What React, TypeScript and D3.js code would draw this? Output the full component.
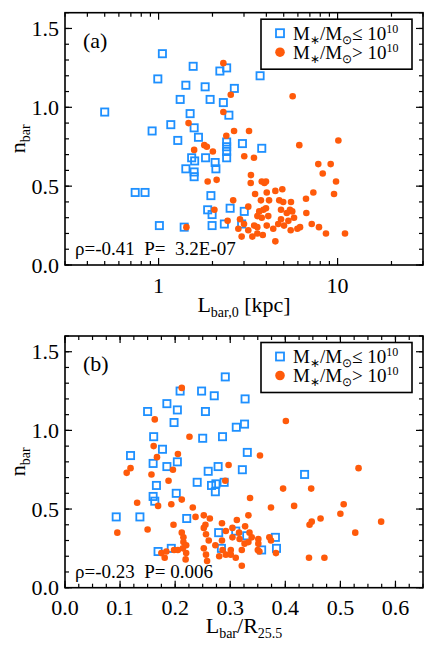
import React from "react";
import * as d3 from "d3";

// ---------- Data (panel a: n_bar vs L_bar,0 [kpc]) ----------
const aLowX = [1.05,1.56,2.20,2.40,3.69,0.99,1.42,1.82,2.65,1.32,1.94,2.30,0.50,1.50,2.47,1.17,1.58,0.92,1.28,1.67,2.40,2.40,2.40,2.40,2.94,3.77,1.53,1.59,1.83,2.07,2.09,1.42,1.58,1.58,0.74,0.84,1.96,1.88,1.99,2.51,3.01,1.01,1.39,1.99,2.33,2.91];
const aLowY = [1.34,1.26,1.23,1.25,1.20,1.18,1.14,1.13,1.12,1.05,1.05,1.03,0.97,0.96,0.95,0.89,0.87,0.85,0.79,0.81,0.78,0.75,0.72,0.68,0.77,0.74,0.68,0.66,0.68,0.65,0.61,0.61,0.59,0.56,0.46,0.46,0.44,0.35,0.32,0.36,0.34,0.25,0.24,0.25,0.26,0.26];
const aHighX = [2.30,5.61,2.53,2.30,1.47,2.64,3.20,2.39,6.11,10.1,1.80,1.86,1.58,2.01,3.01,3.41,7.80,9.15,8.26,3.28,1.88,2.11,3.27,3.77,3.90,3.98,9.80,3.46,4.02,4.49,4.91,7.32,9.55,2.61,3.73,4.14,4.72,4.97,5.49,6.66,3.17,2.05,3.85,3.98,3.65,4.83,5.42,5.58,6.69,5.20,3.56,3.77,4.10,4.83,5.31,5.71,2.43,2.85,3.00,3.42,3.56,4.02,4.37,4.66,5.02,2.79,5.47,5.96,6.17,3.34,3.56,3.82,2.91,7.17,7.87,8.61,11.0,4.49,1.43,3.17];
const aHighY = [1.28,1.07,1.08,0.97,0.90,0.85,0.85,0.82,0.76,0.79,0.76,0.75,0.73,0.72,0.69,0.68,0.64,0.64,0.58,0.57,0.53,0.54,0.52,0.53,0.52,0.53,0.53,0.45,0.46,0.47,0.48,0.46,0.45,0.41,0.41,0.41,0.41,0.40,0.40,0.42,0.37,0.35,0.35,0.36,0.34,0.35,0.35,0.34,0.33,0.33,0.31,0.30,0.31,0.29,0.28,0.30,0.28,0.29,0.26,0.25,0.24,0.25,0.23,0.26,0.25,0.23,0.22,0.23,0.24,0.18,0.20,0.19,0.18,0.26,0.24,0.20,0.20,0.15,0.24,0.22];

// ---------- Data (panel b: n_bar vs L_bar/R_25.5) ----------
const bLowX = [0.291,0.209,0.248,0.271,0.327,0.150,0.185,0.204,0.255,0.198,0.311,0.326,0.161,0.250,0.286,0.331,0.177,0.119,0.160,0.185,0.204,0.278,0.260,0.322,0.240,0.166,0.266,0.274,0.289,0.273,0.202,0.160,0.163,0.093,0.136,0.221,0.279,0.310,0.330,0.284,0.169,0.193,0.357,0.435,0.382,0.384];
const bLowY = [1.34,1.25,1.25,1.22,1.20,1.12,1.17,1.13,1.12,1.05,1.02,1.04,0.96,0.95,0.96,0.86,0.88,0.84,0.79,0.77,0.80,0.77,0.74,0.75,0.67,0.65,0.65,0.66,0.67,0.61,0.60,0.58,0.55,0.45,0.45,0.44,0.35,0.36,0.33,0.25,0.23,0.25,0.24,0.72,0.32,0.25];
const bHighX = [0.212,0.163,0.226,0.401,0.161,0.354,0.167,0.205,0.119,0.112,0.157,0.196,0.297,0.533,0.188,0.291,0.396,0.447,0.131,0.169,0.193,0.212,0.232,0.336,0.374,0.416,0.506,0.500,0.150,0.095,0.197,0.237,0.252,0.263,0.285,0.312,0.333,0.255,0.252,0.327,0.292,0.212,0.215,0.256,0.261,0.285,0.304,0.317,0.326,0.215,0.220,0.252,0.273,0.286,0.321,0.175,0.184,0.198,0.205,0.214,0.181,0.220,0.219,0.256,0.258,0.280,0.292,0.301,0.310,0.321,0.574,0.464,0.444,0.448,0.527,0.304,0.316,0.335,0.339,0.351,0.371,0.374,0.351,0.301,0.350,0.353,0.383,0.443,0.471,0.333];
const bHighY = [1.27,1.07,0.96,1.06,0.90,0.84,0.83,0.85,0.76,0.73,0.72,0.75,0.78,0.76,0.68,0.68,0.63,0.63,0.54,0.52,0.53,0.56,0.51,0.57,0.51,0.52,0.53,0.47,0.37,0.35,0.40,0.45,0.46,0.44,0.41,0.43,0.46,0.40,0.38,0.39,0.36,0.35,0.32,0.34,0.30,0.30,0.32,0.31,0.28,0.29,0.27,0.25,0.27,0.24,0.24,0.22,0.23,0.24,0.24,0.25,0.19,0.22,0.18,0.21,0.17,0.20,0.21,0.21,0.19,0.14,0.42,0.44,0.40,0.42,0.35,0.38,0.35,0.35,0.32,0.31,0.32,0.30,0.28,0.24,0.24,0.23,0.22,0.19,0.19,0.29];

// ---------- Axis ticks ----------
const yMajorTicks = [0, 0.5, 1.0, 1.5];
const yMinorTicks = d3.range(0, 17).map((i) => i / 10);
const aMajorTicks = [1, 10];
const aMinorTicks = [0.3,0.4,0.5,0.6,0.7,0.8,0.9,2,3,4,5,6,7,8,9,20,30];
const aTickLabels = ["1", "10"];
const bMajorTicks = [0, 0.1, 0.2, 0.3, 0.4, 0.5, 0.6];
const bMinorTicks = d3.range(0, 27).map((i) => i * 0.025);

const BLUE = "#1e90ff";
const ORANGE = "#ff5a0a";
const FONT = "Liberation Serif, Times New Roman, Times, serif";
const MAJ = 7;
const MIN = 4;

type Sc = (v: number) => number;

function Panel(props: {
  x: Sc; y: Sc; x0: number; x1: number; y0: number; y1: number;
  xMajor: number[]; xMinor: number[]; xLabels: string[];
  lowX: number[]; lowY: number[]; highX: number[]; highY: number[];
  tag: string; stat: string; xLabelY: number;
}) {
  const { x, y, x0, x1, y0, y1 } = props;
  const ticks: any[] = [];
  props.xMinor.forEach((v, i) => {
    const px = x(v);
    ticks.push(<line key={"xm" + i} x1={px} x2={px} y1={y1} y2={y1 - MIN} />);
    ticks.push(<line key={"xmt" + i} x1={px} x2={px} y1={y0} y2={y0 + MIN} />);
  });
  props.xMajor.forEach((v, i) => {
    const px = x(v);
    ticks.push(<line key={"xM" + i} x1={px} x2={px} y1={y1} y2={y1 - MAJ} />);
    ticks.push(<line key={"xMt" + i} x1={px} x2={px} y1={y0} y2={y0 + MAJ} />);
  });
  yMinorTicks.forEach((v, i) => {
    const py = y(v);
    ticks.push(<line key={"ym" + i} x1={x0} x2={x0 + MIN} y1={py} y2={py} />);
    ticks.push(<line key={"ymr" + i} x1={x1} x2={x1 - MIN} y1={py} y2={py} />);
  });
  yMajorTicks.forEach((v, i) => {
    const py = y(v);
    ticks.push(<line key={"yM" + i} x1={x0} x2={x0 + MAJ} y1={py} y2={py} />);
    ticks.push(<line key={"yMr" + i} x1={x1} x2={x1 - MAJ} y1={py} y2={py} />);
  });
  const lx = x0 + 215;
  return (
    <g style={{ fontFamily: FONT }}>
      {props.lowX.map((v, i) => (
        <rect key={"b" + i} x={x(v) - 3.6} y={y(props.lowY[i]) - 3.6} width={7.2} height={7.2}
          fill="none" stroke={BLUE} strokeWidth={1.8} />
      ))}
      {props.highX.map((v, i) => (
        <circle key={"o" + i} cx={x(v)} cy={y(props.highY[i])} r={3.3} fill={ORANGE} />
      ))}
      <g stroke="#000" strokeWidth={1.2}>{ticks}</g>
      <rect x={x0} y={y0} width={x1 - x0} height={y1 - y0} fill="none" stroke="#000" strokeWidth={1.6} />
      {yMajorTicks.map((v, i) => (
        <text key={"yl" + i} x={x0 - 6} y={y(v)} dy="0.35em" textAnchor="end" fontSize={22}>
          {v.toFixed(1)}
        </text>
      ))}
      {props.xMajor.map((v, i) => (
        <text key={"xl" + i} x={x(v)} y={props.xLabelY} textAnchor="middle" fontSize={22}>
          {props.xLabels[i]}
        </text>
      ))}
      <text x={x0 + 18} y={y0 + 35} fontSize={22}>{props.tag}</text>
      <text x={x0 + 10} y={y1 - 10} fontSize={19} xmlSpace="preserve">{props.stat}</text>
      {/* legend */}
      <rect x={x0 + 196} y={y0 + 6.5} width={151} height={50} fill="#fff" stroke="#000" strokeWidth={1.6} />
      <rect x={lx - 4} y={y0 + 20.5 - 4} width={8} height={8} fill="none" stroke={BLUE} strokeWidth={1.8} />
      <circle cx={lx} cy={y0 + 39.5} r={4.8} fill={ORANGE} />
      <text x={lx + 13} y={y0 + 27} fontSize={19}>
        M<tspan dy={4} fontSize={12}>∗</tspan><tspan dy={-4}>/M</tspan><tspan dy={4} fontSize={12}>⊙</tspan>
        <tspan dy={-4}>≤ 10</tspan><tspan dy={-7} fontSize={12}>10</tspan>
      </text>
      <text x={lx + 13} y={y0 + 46} fontSize={19}>
        M<tspan dy={4} fontSize={12}>∗</tspan><tspan dy={-4}>/M</tspan><tspan dy={4} fontSize={12}>⊙</tspan>
        <tspan dy={-4}>&gt; 10</tspan><tspan dy={-7} fontSize={12}>10</tspan>
      </text>
      <text transform={`translate(${x0 - 40},${(y0 + y1) / 2}) rotate(-90)`} textAnchor="middle" fontSize={22}>
        n<tspan dy={5} fontSize={14}>bar</tspan>
      </text>
    </g>
  );
}

export default function App() {
  const L = 65, R = 423;
  const xA = d3.scaleLog().domain([0.3, 30]).range([L, R]);
  const yA = d3.scaleLinear().domain([0, 1.6]).range([265, 12.7]);
  const xB = d3.scaleLinear().domain([0, 0.65]).range([L, R]);
  const yB = d3.scaleLinear().domain([0, 1.6]).range([587.7, 336]);
  return (
    <svg width={436} height={654} style={{ position: "absolute", left: 0, top: 0, background: "#fff", fontFamily: FONT }}>
      <rect width={436} height={654} fill="#fff" />
      <Panel x={xA} y={yA} x0={L} x1={R} y0={12.7} y1={265}
        xMajor={aMajorTicks} xMinor={aMinorTicks} xLabels={aTickLabels}
        lowX={aLowX} lowY={aLowY} highX={aHighX} highY={aHighY}
        tag="(a)" stat="ρ=-0.41  P=  3.2E-07" xLabelY={293} />
      <Panel x={xB} y={yB} x0={L} x1={R} y0={336} y1={587.7}
        xMajor={bMajorTicks} xMinor={bMinorTicks} xLabels={bMajorTicks.map((v) => v.toFixed(1))}
        lowX={bLowX} lowY={bLowY} highX={bHighX} highY={bHighY}
        tag="(b)" stat="ρ=-0.23  P= 0.006" xLabelY={615} />
      <text x={244} y={312} textAnchor="middle" fontSize={22}>
        L<tspan dy={5} fontSize={14}>bar,0</tspan><tspan dy={-5}> [kpc]</tspan>
      </text>
      <text x={244} y={633} textAnchor="middle" fontSize={22}>
        L<tspan dy={5} fontSize={14}>bar</tspan><tspan dy={-5}>/R</tspan><tspan dy={5} fontSize={14}>25.5</tspan>
      </text>
    </svg>
  );
}
